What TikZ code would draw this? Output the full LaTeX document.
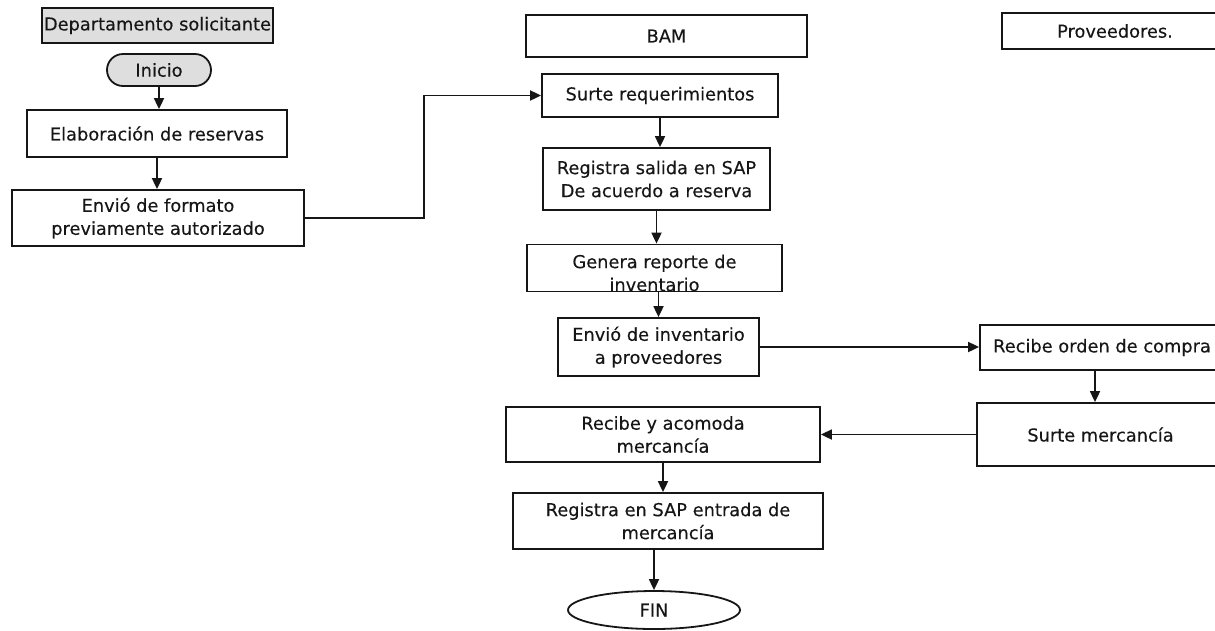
\documentclass[tikz,border=0pt]{standalone}
\usepackage{fontspec}
\setmainfont{DejaVu Sans}[UprightFeatures={FakeBold=0.25}]
\usetikzlibrary{arrows.meta,shapes.geometric,shapes.misc}
\definecolor{ink}{HTML}{161616}
\definecolor{shade}{HTML}{DEDEDE}
\begin{document}
\begin{tikzpicture}[x=1pt,y=-1pt,
  every node/.style={font=\fontsize{17.8}{23}\selectfont, text=ink},
  box/.style={draw=ink, line width=1.8pt, inner sep=0pt, align=center, rectangle},
  filled/.style={box, fill=shade},
  arr/.style={draw=ink, line width=1.8pt, -{Triangle[length=11pt,width=10pt]}}]
\useasboundingbox (0,0) rectangle (1215,630);

% column headers
\node[filled, minimum width=231pt, minimum height=35pt] (depto) at (157.5,25.5) {Departamento solicitante};
\node[box, minimum width=281pt, minimum height=42pt] (bam) at (666.5,36) {BAM};
\node[box, minimum width=226pt, minimum height=36pt] (prov) at (1115,31) {Proveedores.};

% requesting department
\node[filled, rounded rectangle, minimum width=104pt, minimum height=32pt] (inicio) at (159,70) {Inicio};
\node[box, minimum width=260pt, minimum height=47pt] (elab) at (157,133.5) {Elaboración de reservas};
\node[box, minimum width=292pt, minimum height=56pt] (envf) at (158,218) {Envió de formato\\previamente autorizado};

% warehouse
\node[box, minimum width=236pt, minimum height=43pt] (surtereq) at (660,95.5) {Surte requerimientos};
\node[box, minimum width=227pt, minimum height=62pt] (regsal) at (656.5,179) {Registra salida en SAP\\De acuerdo a reserva};
\node[box, minimum width=255pt, minimum height=47pt,
      label={[align=center, yshift=-5pt, name=generatxt]center:{Genera reporte de\\inventario}}] (genera) at (654.5,268) {};
\node[box, minimum width=201pt, minimum height=58pt] (envinv) at (658.5,347) {Envió de inventario\\a proveedores};
\node[box, minimum width=314pt, minimum height=55pt] (recacom) at (663,434.5) {Recibe y acomoda\\mercancía};
\node[box, minimum width=310pt, minimum height=56pt] (regent) at (668,521) {Registra en SAP entrada de\\mercancía};
\node[box, ellipse, minimum width=172pt, minimum height=38pt] (fin) at (654,610) {FIN};

% suppliers
\node[box, minimum width=244pt, minimum height=45pt] (recorden) at (1102,347.5) {Recibe orden de compra};
\node[box, minimum width=247pt, minimum height=63pt] (surtemerc) at (1100.5,434.5) {Surte mercancía};

% flow
\draw[arr] (inicio.south) -- (inicio.south |- elab.north);
\draw[arr] (elab.south) -- (elab.south |- envf.north);
\draw[arr] (envf.east) -- ++(119,0) |- (surtereq.west);
\draw[arr] (surtereq.south) -- (surtereq.south |- regsal.north);
\draw[arr] (regsal.south) -- (regsal.south |- genera.north);
\draw[arr] (envinv.north |- genera.south) -- (envinv.north);
\draw[arr] (envinv.east) -- (envinv.east -| recorden.west);
\draw[arr] ([xshift=-7pt]recorden.south) -- ([xshift=-7pt]recorden.south |- surtemerc.north);
\draw[arr] (surtemerc.west) -- (recacom.east);
\draw[arr] (recacom.south) -- (recacom.south |- regent.north);
\draw[arr] (fin.north |- regent.south) -- (fin.north);
\end{tikzpicture}
\end{document}
